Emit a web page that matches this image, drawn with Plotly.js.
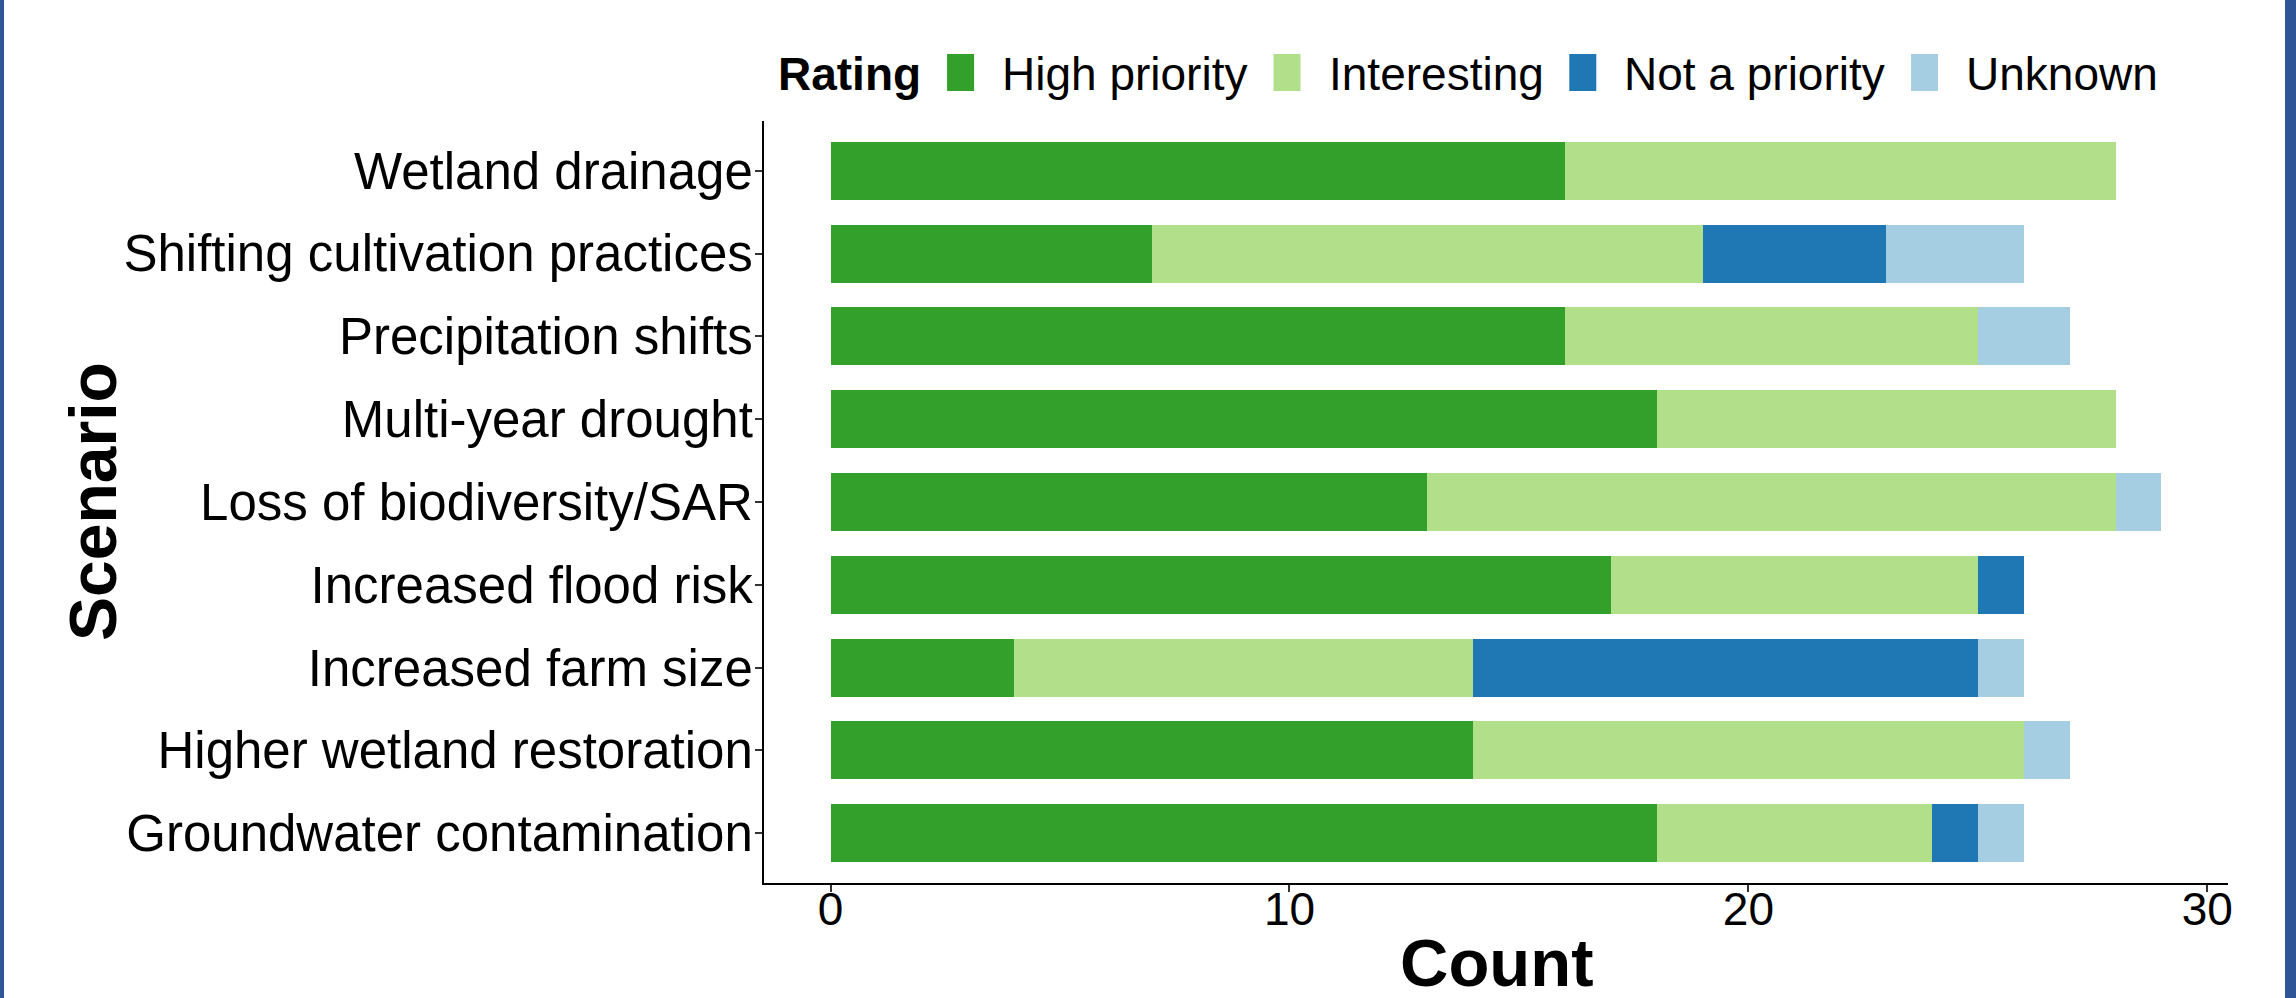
<!DOCTYPE html>
<html><head><meta charset="utf-8">
<script src="https://cdn.plot.ly/plotly-3.0.1.min.js"></script>
<style>
html,body{margin:0;padding:0;background:#fff;}
#wrap{position:relative;width:2296px;height:998px;overflow:hidden;}
#chart{width:2296px;height:998px;}
.bl{position:absolute;top:0;left:0;width:4px;height:998px;background:#2F5597;}
.br{position:absolute;top:0;right:0;width:11px;height:998px;background:#2F5597;}
</style></head>
<body><div id="wrap"><div id="chart"></div><div class="bl"></div><div class="br"></div></div>
<script>
const scenarios = ["Wetland drainage","Shifting cultivation practices","Precipitation shifts","Multi-year drought","Loss of biodiversity/SAR","Increased flood risk","Increased farm size","Higher wetland restoration","Groundwater contamination"];
const ratings = ["High priority","Interesting","Not a priority","Unknown"];
const highPriority = [16,7,16,18,13,17,4,14,18];
const interesting  = [12,12,9,10,15,8,10,12,6];
const notAPriority = [0,4,0,0,0,1,11,0,1];
const unknown      = [0,3,2,0,1,0,1,1,1];
const xTicks = [0,10,20,30];
const legendTitle = "Rating";
const xTitle = "Count";
const yTitle = "Scenario";

const colors = ["#33A02C","#B2DF8A","#1F78B4","#A6CEE3"];
const seriesValues = [highPriority, interesting, notAPriority, unknown];
const FONT = '"Liberation Sans", Arial, sans-serif';

const traces = ratings.map((r,i)=>({
  type:'bar', orientation:'h', name:r,
  y:scenarios, x:seriesValues[i],
  marker:{color:colors[i], line:{width:0}},
  showlegend:false, hoverinfo:'x+y+name'
}));

// plot area in pixels
const L=764, T=121, W=1464, H=762;
const px2x = p => (p-L)/W;
const py2y = p => (T+H-p)/H;

const cv = document.createElement('canvas').getContext('2d');
function tw(txt, bold, size){ cv.font = (bold?'bold ':'') + size + 'px ' + FONT; return cv.measureText(txt).width; }

const annotations = [];
const shapes = [];
const LS = 46, gap = 27, sw = 27;
annotations.push({xref:'paper',yref:'paper',x:px2x(777),y:py2y(74),xanchor:'left',yanchor:'middle',
  text:'<b>'+legendTitle+'</b>',showarrow:false,font:{family:FONT,size:LS,color:'#000'},borderpad:0});
let cur = 777 + tw(legendTitle,true,LS) + gap;
ratings.forEach((r,i)=>{
  shapes.push({type:'rect',xref:'paper',yref:'paper',x0:px2x(cur),x1:px2x(cur+sw),y0:py2y(91),y1:py2y(54),
    fillcolor:colors[i],line:{width:0}});
  const tx = cur + sw + gap;
  annotations.push({xref:'paper',yref:'paper',x:px2x(tx),y:py2y(74),xanchor:'left',yanchor:'middle',
    text:r,showarrow:false,font:{family:FONT,size:LS,color:'#000'},borderpad:0});
  cur = tx + tw(r,false,LS) + gap;
});
annotations.push({xref:'paper',yref:'paper',x:0.5,y:py2y(962),xanchor:'center',yanchor:'middle',
  text:'<b>'+xTitle+'</b>',showarrow:false,font:{family:FONT,size:67,color:'#000'},borderpad:0});
annotations.push({xref:'paper',yref:'paper',x:px2x(93),y:0.5,xanchor:'center',yanchor:'middle',textangle:-90,
  text:'<b>'+yTitle+'</b>',showarrow:false,font:{family:FONT,size:66,color:'#000'}});

const layout = {
  width:2296, height:998,
  margin:{l:L, r:2296-L-W, t:T, b:998-T-H, pad:0},
  paper_bgcolor:'#fff', plot_bgcolor:'#fff',
  barmode:'stack', bargap:0.3,
  font:{family:FONT, color:'#000'},
  xaxis:{range:[-1.45,30.45], tickvals:xTicks, ticktext:xTicks.map(String), ticks:'outside', ticklen:7, tickwidth:2, tickcolor:'#333',
    ticklabelstandoff:-22,
    showline:true, linecolor:'#000', linewidth:2, showgrid:false, zeroline:false,
    tickfont:{family:FONT,size:46,color:'#000'}, fixedrange:true},
  yaxis:{type:'category', categoryarray:scenarios, categoryorder:'array', range:[scenarios.length-0.4,-0.6],
    ticks:'outside', ticklen:7, tickwidth:2, tickcolor:'#333',
    ticklabelstandoff:-8,
    showline:true, linecolor:'#000', linewidth:2, showgrid:false, zeroline:false,
    tickfont:{family:FONT,size:51,color:'#000'}, fixedrange:true},
  annotations, shapes, showlegend:false
};
Plotly.newPlot('chart', traces, layout, {displayModeBar:false, staticPlot:true});
</script>
</body></html>
